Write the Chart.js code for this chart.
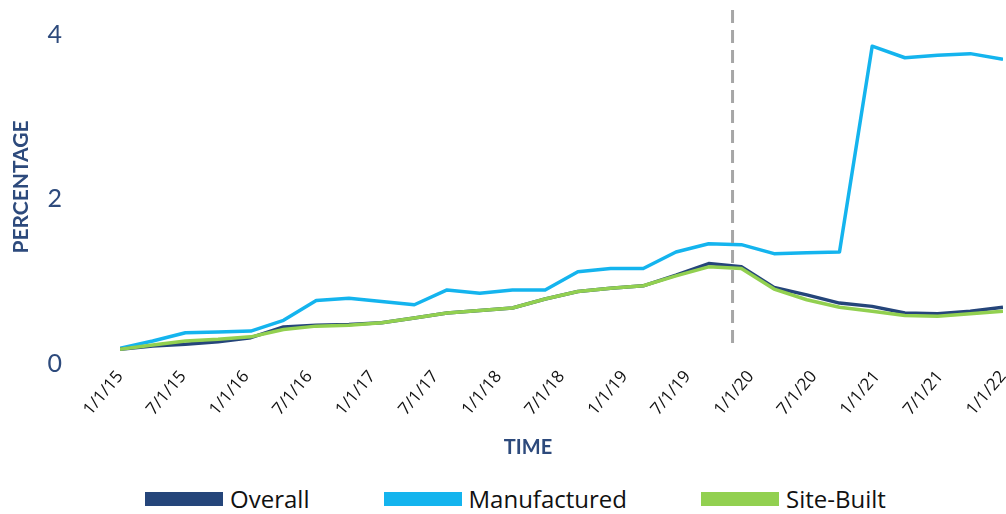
<!DOCTYPE html>
<html>
<head>
<meta charset="utf-8">
<script src="https://cdn.jsdelivr.net/npm/chart.js@4"></script>
<style>
  html, body { margin: 0; padding: 0; background: #fff; }
  #wrap { position: relative; width: 1006px; height: 470px; }
  #xTitle {
    position: absolute; left: 0; top: 434px; width: 1006px; padding-left: 50px;
    box-sizing: border-box; text-align: center;
    font: bold 20px Lato, sans-serif; color: #2d4a7c;
  }
  #legend {
    position: absolute; left: 0; top: 482px; width: 1006px;
    display: flex; justify-content: center; gap: 74px;
    padding-left: 25px; box-sizing: border-box;
    font: 24px 'Open Sans', sans-serif; color: #111;
  }
  #legend .item { display: flex; align-items: center; }
  #legend .box { width: 78px; height: 14px; margin-right: 7px; }
</style>
</head>
<body>
<div id="wrap"><canvas id="rates"></canvas></div>
<div id="xTitle">TIME</div>
<div id="legend"></div>
<script>
// Quarterly rates (%), 1/1/15 through 1/1/22
const OVERALL      = [0.18,0.22,0.24,0.27,0.32,0.45,0.47,0.48,0.50,0.56,0.62,0.65,0.68,0.79,0.88,0.92,0.95,1.08,1.22,1.18,0.93,0.84,0.74,0.70,0.62,0.61,0.64,0.69];
const MANUFACTURED = [0.19,0.28,0.38,0.39,0.40,0.53,0.77,0.80,0.76,0.72,0.90,0.86,0.90,0.90,1.12,1.16,1.16,1.36,1.46,1.45,1.34,1.35,1.36,3.86,3.72,3.75,3.77,3.70];
const SITE_BUILT   = [0.18,0.23,0.28,0.30,0.33,0.42,0.46,0.47,0.50,0.56,0.62,0.65,0.68,0.79,0.88,0.92,0.95,1.07,1.18,1.16,0.91,0.78,0.69,0.64,0.59,0.58,0.61,0.64];

const X_TICK_LABELS = ['1/1/15','7/1/15','1/1/16','7/1/16','1/1/17','7/1/17','1/1/18','7/1/18',
                       '1/1/19','7/1/19','1/1/20','7/1/20','1/1/21','7/1/21','1/1/22'];
const Y_TICKS = [0, 2, 4];
const Y_MAX = 4.3;

// vertical marker (position on the quarter index axis)
const MARKER_AT = 18.73;
const MARKER_FROM = 0.2;

const BLUE_TEXT = '#2d4a7c';
const COLORS = { overall: '#25457a', manufactured: '#14b4ee', site: '#92d050' };

const N = OVERALL.length;
const xy = arr => arr.map((v, i) => ({ x: i, y: v }));

function lineDS(label, data, color, order){
  return {
    label, data: xy(data),
    borderColor: color,
    backgroundColor: color,
    borderWidth: 3.5,
    borderJoinStyle: 'round',
    pointRadius: 0,
    tension: 0,
    fill: false,
    order
  };
}

// dashed vertical line
const markerLine = {
  id: 'markerLine',
  afterDatasetsDraw(chart){
    const { ctx, scales: { x, y } } = chart;
    const px = x.getPixelForValue(MARKER_AT);
    ctx.save();
    ctx.strokeStyle = '#a6a6a6';
    ctx.lineWidth = 3;
    ctx.setLineDash([13, 7]);
    ctx.beginPath();
    ctx.moveTo(px, y.getPixelForValue(Y_MAX));
    ctx.lineTo(px, y.getPixelForValue(MARKER_FROM));
    ctx.stroke();
    ctx.restore();
  }
};

const tickStep = (N - 1) / (X_TICK_LABELS.length - 1);

const chart = new Chart(document.getElementById('rates'), {
  type: 'line',
  data: {
    datasets: [
      lineDS('Overall', OVERALL, COLORS.overall, 1),
      lineDS('Manufactured', MANUFACTURED, COLORS.manufactured, 2),
      lineDS('Site-Built', SITE_BUILT, COLORS.site, 0)
    ]
  },
  options: {
    responsive: true,
    maintainAspectRatio: false,
    animation: false,
    layout: { padding: { top: 10, right: 3, left: 0, bottom: 0 } },
    plugins: { legend: { display: false }, tooltip: { enabled: false } },
    scales: {
      x: {
        type: 'linear',
        min: 0, max: N - 1,
        grid: { display: false, drawTicks: false },
        border: { display: false },
        afterBuildTicks: s => { s.ticks = X_TICK_LABELS.map((_, k) => ({ value: k * tickStep })); },
        afterFit: s => { s.height = 106; s.paddingRight = 0; s.paddingLeft = 0; },
        ticks: {
          autoSkip: false,
          minRotation: 50, maxRotation: 50,
          padding: 3,
          color: '#111',
          font: { family: 'Open Sans', size: 17 },
          callback: (v, i) => X_TICK_LABELS[i]
        }
      },
      y: {
        min: 0, max: Y_MAX,
        grid: { display: false, drawTicks: false },
        border: { display: false },
        afterBuildTicks: s => { s.ticks = Y_TICKS.map(v => ({ value: v })); },
        afterFit: s => { s.width = 120; s.paddingTop = 0; s.paddingBottom = 0; },
        ticks: {
          padding: 58,
          color: BLUE_TEXT,
          font: { family: 'Lato', size: 25 }
        },
        title: {
          display: true, text: 'PERCENTAGE', color: BLUE_TEXT,
          font: { family: 'Lato', size: 21, weight: 'bold' },
          padding: { top: 9, bottom: 0 }
        }
      }
    }
  },
  plugins: [markerLine]
});

// HTML legend in dataset order
const legendEl = document.getElementById('legend');
chart.data.datasets.forEach(ds => {
  const item = document.createElement('div');
  item.className = 'item';
  const box = document.createElement('span');
  box.className = 'box';
  box.style.background = ds.borderColor;
  const txt = document.createElement('span');
  txt.textContent = ds.label;
  item.appendChild(box);
  item.appendChild(txt);
  legendEl.appendChild(item);
});
</script>
</body>
</html>
